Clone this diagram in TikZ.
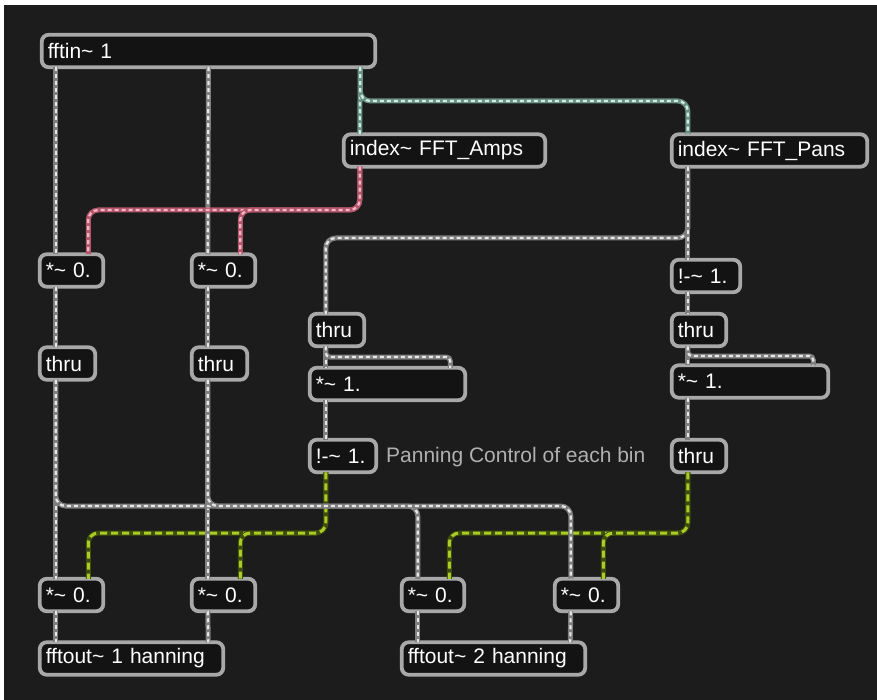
\documentclass[tikz,border=0pt]{standalone}
\usepackage{fontspec}
\setmainfont{Liberation Sans}
\definecolor{bg}{HTML}{1C1C1C}
\definecolor{boxfill}{HTML}{131313}
\definecolor{boxline}{HTML}{A8A8A8}
\definecolor{notegray}{HTML}{B0B0B0}
\definecolor{graybase}{HTML}{7E7E7E}
\definecolor{graydash}{HTML}{E6E6E6}
\definecolor{tealbase}{HTML}{6A8F84}
\definecolor{tealdash}{HTML}{CDEFE2}
\definecolor{pinkbase}{HTML}{B4566A}
\definecolor{pinkdash}{HTML}{F4B6C6}
\definecolor{greenbase}{HTML}{3E4C0C}
\definecolor{greendash}{HTML}{AACC26}
\tikzset{
  obj/.style={draw=boxline, line width=3.8pt, fill=boxfill, rounded corners=7pt,
    text=white, font=\fontsize{21}{24}\selectfont, inner xsep=6pt, inner ysep=0pt,
    outer sep=0pt, minimum height=32.5pt, align=left},
  note/.style={text=notegray, font=\fontsize{21}{24}\selectfont, inner sep=0pt, anchor=west},
  cord/.style 2 args={line width=5pt, draw=#1, rounded corners=10pt, line cap=butt,
    postaction={draw=#2, line width=2.2pt, dash pattern=on 4pt off 3pt}},
  sig/.style={cord={graybase}{graydash}},
  teal/.style={cord={tealbase}{tealdash}},
  pink/.style={cord={pinkbase}{pinkdash}},
  lime/.style={line width=5pt, draw=greenbase, rounded corners=10pt, line cap=butt,
    postaction={draw=greendash, line width=3pt, dash pattern=on 7pt off 4pt}},
}
\begin{document}
\begin{tikzpicture}[x=1pt, y=-1pt]
  \useasboundingbox (0,0) rectangle (877,700);
  \fill[white] (0,0) rectangle (877,700);
  \fill[bg] (4,5) rectangle (877,700);

  % objects
  \node[obj, text width=321.5pt] (fftin) at (208.5,51) {fftin\textasciitilde{} 1};
  \node[obj, text width=189.5pt] (amps) at (444.5,150.5) {index\textasciitilde{} FFT\_Amps};
  \node[obj, text width=183.5pt] (pans) at (769.5,150.5) {index\textasciitilde{} FFT\_Pans};

  \node[obj, text width=51.5pt] (mulA) at (71.5,270.5) {*\textasciitilde{} 0.};
  \node[obj, text width=51.5pt] (mulB) at (223.5,270.5) {*\textasciitilde{} 0.};
  \node[obj, text width=43.5pt] (thruA) at (67.5,363.5) {thru};
  \node[obj, text width=43.5pt] (thruB) at (219.5,363.5) {thru};

  \node[obj, text width=42.5pt] (thruC) at (337,330) {thru};
  \node[obj, text width=143.5pt] (mulC) at (387.5,384) {*\textasciitilde{} 1.};
  \node[obj, text width=54.5pt] (rsubC) at (343,456) {!-\textasciitilde{} 1.};
  \node[note] (label) at (386,457) {Panning Control of each bin};

  \node[obj, text width=56.5pt] (rsubD) at (706,276) {!-\textasciitilde{} 1.};
  \node[obj, text width=42.5pt] (thruD) at (699,330) {thru};
  \node[obj, text width=144.5pt] (mulD) at (750,381.5) {*\textasciitilde{} 1.};
  \node[obj, text width=42.5pt] (thruE) at (699,456) {thru};

  \node[obj, text width=51.5pt] (mulE) at (71.5,595) {*\textasciitilde{} 0.};
  \node[obj, text width=51.5pt] (mulF) at (223.5,595) {*\textasciitilde{} 0.};
  \node[obj, text width=50.5pt] (mulG) at (433,595) {*\textasciitilde{} 0.};
  \node[obj, text width=51.5pt] (mulH) at (586.5,595) {*\textasciitilde{} 0.};
  \node[obj, text width=171.5pt] (outA) at (131.5,658.5) {fftout\textasciitilde{} 1 hanning};
  \node[obj, text width=171.5pt] (outB) at (493.5,658.5) {fftout\textasciitilde{} 2 hanning};

  % inlets and outlets
  \coordinate (fftinO) at ([xshift=14pt]fftin.south west);
  \coordinate (fftinM) at (fftin.south);
  \coordinate (fftinR) at ([xshift=-15pt]fftin.south east);
  \foreach \n in {amps,pans,mulA,mulB,thruA,thruB,thruC,mulC,rsubC,rsubD,thruD,mulD,thruE,mulE,mulF,mulG,mulH,outA,outB}{
    \coordinate (\n O) at ([xshift=16pt]\n.south west);
    \coordinate (\n L) at ([xshift=16pt]\n.north west);
    \coordinate (\n R) at ([xshift=-15pt]\n.north east);
  }

  % panning control cords
  \draw[lime] (rsubCO) -- (rsubCO|-0,533) -| (mulER);
  \draw[lime] (rsubCO) -- (rsubCO|-0,533) -| (mulFR);
  \draw[lime] (thruEO) -- (thruEO|-0,533) -| (mulGR);
  \draw[lime] (thruEO) -- (thruEO|-0,533) -| (mulHR);

  % signal cords
  \draw[sig] (fftinO) -- (mulAL);
  \draw[sig] (fftinM) -- (mulBL);
  \draw[sig] (mulAO) -- (thruAL);
  \draw[sig] (mulBO) -- (thruBL);
  \draw[sig] (thruAO) -- (mulEL);
  \draw[sig] (thruBO) -- (mulFL);
  \draw[sig] (thruAO) -- (thruAO|-0,506) -| (mulGL);
  \draw[sig] (thruBO) -- (thruBO|-0,506) -| (mulHL);
  \draw[sig] (mulEO) -- (outAL);
  \draw[sig] (mulFO) -- (outAR);
  \draw[sig] (mulGO) -- (outBL);
  \draw[sig] (mulHO) -- (outBR);

  \draw[sig] (pansO) -- (pansO|-0,238) -| (thruCL);
  \draw[sig] (pansO) -- (rsubDL);
  \draw[sig] (rsubDO) -- (thruDL);
  \draw[sig] (thruDO) -- (mulDL);
  \draw[sig, rounded corners=4pt] (thruDO) -- (thruDO|-0,356) -| (mulDR);
  \draw[sig] (mulDO) -- (thruEL);
  \draw[sig] (thruCO) -- (mulCL);
  \draw[sig, rounded corners=4pt] (thruCO) -- (thruCO|-0,357) -| (mulCR);
  \draw[sig] (mulCO) -- (rsubCL);

  % bin index cords
  \draw[teal] (fftinR) -- (ampsL);
  \draw[teal] (fftinR) -- (fftinR|-0,101) -| (pansL);

  % amplitude cords
  \draw[pink] (ampsO) -- (ampsO|-0,210) -| (mulAR);
  \draw[pink] (ampsO) -- (ampsO|-0,210) -| (mulBR);
\end{tikzpicture}
\end{document}
